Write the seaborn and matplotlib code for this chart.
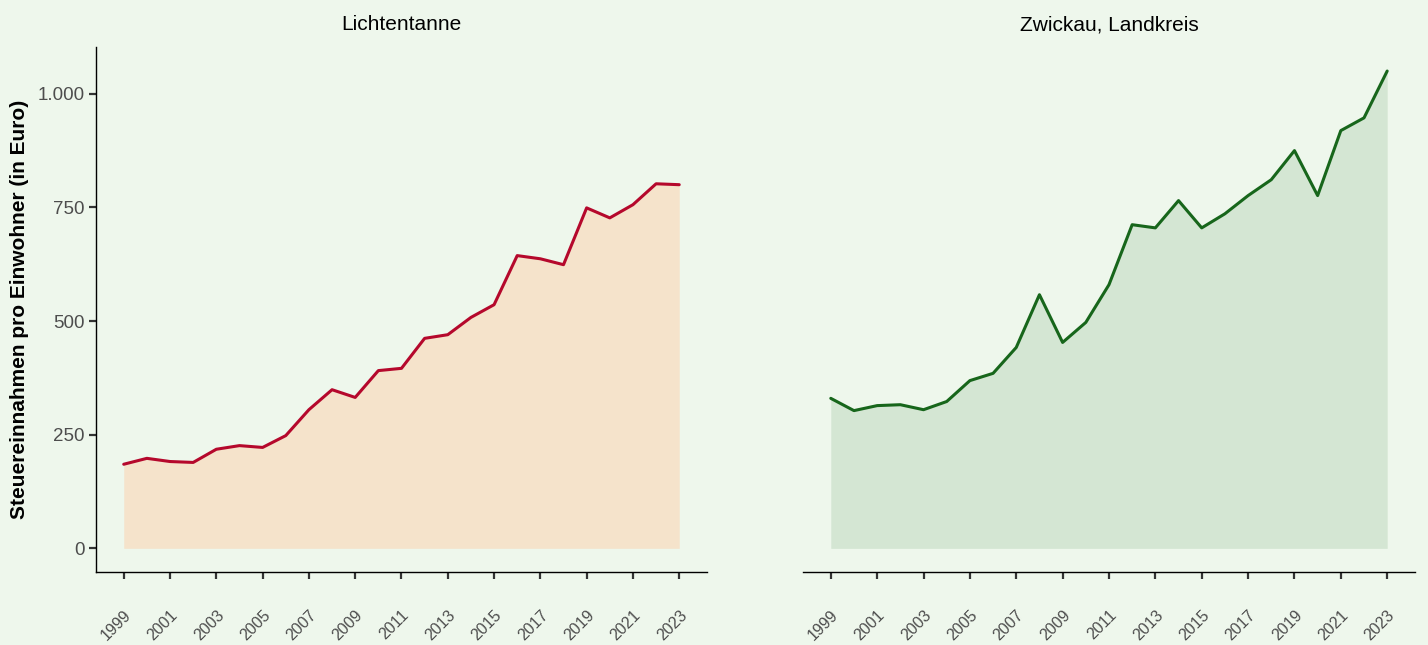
import pandas as pd
import numpy as np
import matplotlib.pyplot as plt
import matplotlib.ticker as mticker
import matplotlib.transforms as mtransforms
import seaborn as sns

years = list(range(1999, 2024))
lichtentanne = [185, 198, 191, 189, 218, 226, 222, 248, 305, 349, 332, 391, 396,
                462, 470, 508, 536, 644, 637, 624, 749, 727, 756, 802, 800]
zwickau = [330, 303, 314, 316, 305, 323, 369, 385, 442, 558, 453, 497, 580,
           712, 705, 765, 705, 736, 776, 811, 875, 776, 919, 947, 1050]
regions = ['Lichtentanne', 'Zwickau, Landkreis']
line_colors = ['#B5082C', '#17661B']
fill_colors = ['#F5E3CB', '#D4E6D3']
y_ticks = [0, 250, 500, 750, 1000]
x_ticks = list(range(1999, 2024, 2))

BG = '#EEF7EC'


def de_fmt(v, pos):
    return f'{int(v):,}'.replace(',', '.')


def main():
    df = pd.DataFrame({'Jahr': years * 2,
                       'Wert': lichtentanne + zwickau,
                       'Region': [regions[0]] * len(years) + [regions[1]] * len(years)})

    sns.set_theme(style='ticks')
    plt.rcParams['font.family'] = ['Liberation Sans', 'DejaVu Sans']

    fig = plt.figure(figsize=(14.28, 6.45), dpi=100, facecolor=BG)
    ax1 = fig.add_axes([0.0672, 0.1132, 0.4279, 0.8140])
    ax2 = fig.add_axes([0.5623, 0.1132, 0.4286, 0.8140], sharey=ax1)

    # kleine Verschiebung der Jahreszahlen nach rechts (wie im Original)
    shift = mtransforms.ScaledTranslation(4 / 100, 0, fig.dpi_scale_trans)

    for ax, reg, lc, fc in zip([ax1, ax2], regions, line_colors, fill_colors):
        sub = df[df['Region'] == reg]
        ax.set_facecolor(BG)
        ax.fill_between(sub['Jahr'], 0, sub['Wert'], color=fc, lw=0, zorder=1)
        sns.lineplot(data=sub, x='Jahr', y='Wert', ax=ax, color=lc, lw=2.2,
                     zorder=3, legend=False)
        ax.set_xlim(1997.8, 2024.2)
        ax.set_ylim(-52, 1103)
        ax.set_xticks(x_ticks)
        ax.set_xticklabels([str(y) for y in x_ticks], rotation=45, ha='right',
                           va='top', rotation_mode='anchor',
                           color='#4D4D4D', fontsize=11.5)
        for lab in ax.get_xticklabels():
            lab.set_transform(lab.get_transform() + shift)
        ax.set_title(reg, fontsize=15, color='black', pad=12)
        ax.set_xlabel('')
        ax.set_ylabel('')
        ax.tick_params(axis='x', length=5, width=1.6, color='#333333', pad=20.5)
        for s in ['top', 'right']:
            ax.spines[s].set_visible(False)
        ax.spines['bottom'].set_color('black')
        ax.spines['bottom'].set_linewidth(1.0)

    ax1.set_yticks(y_ticks)
    ax1.yaxis.set_major_formatter(mticker.FuncFormatter(de_fmt))
    ax1.tick_params(axis='y', length=5, width=1.6, color='#333333',
                    labelcolor='#4D4D4D', labelsize=13.5, pad=3)
    ax1.spines['left'].set_color('black')
    ax1.spines['left'].set_linewidth(1.0)
    ax1.set_ylabel('Steuereinnahmen pro Einwohner (in Euro)', fontsize=15,
                   fontweight='bold', color='black', labelpad=6)

    ax2.spines['left'].set_visible(False)
    ax2.tick_params(axis='y', left=False, labelleft=False)

    fig.savefig('out.png', dpi=100, facecolor=BG)
    plt.close(fig)


if __name__ == '__main__':
    main()
